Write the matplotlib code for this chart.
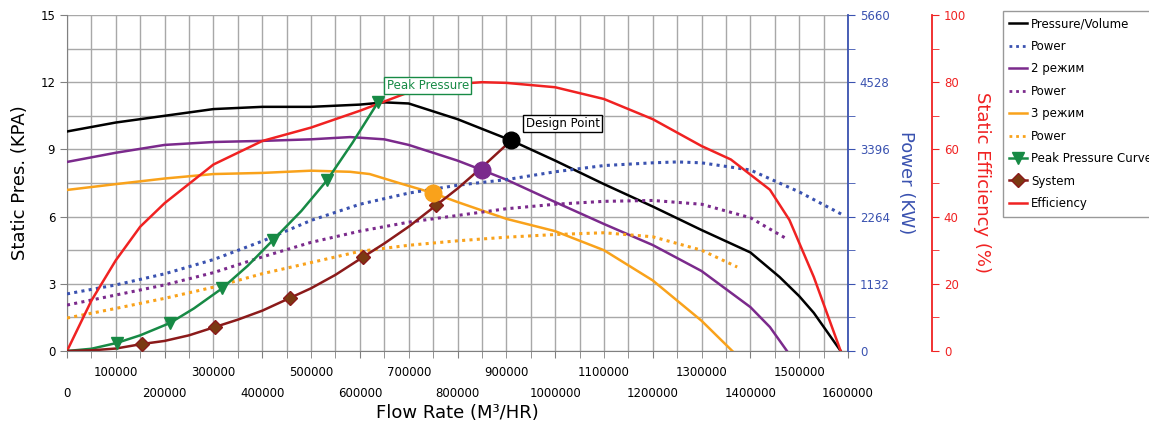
import matplotlib.pyplot as plt
from matplotlib.lines import Line2D
from matplotlib.ticker import MultipleLocator, FixedLocator, FuncFormatter

# Fan curves (flow in M3/HR, pressure in KPA, power in KW, efficiency in %)
flow_black = [0, 100000, 200000, 300000, 400000, 500000, 600000, 650000, 700000, 800000,
              910000, 1000000, 1100000, 1200000, 1300000, 1400000, 1460000, 1500000, 1530000, 1585000]
pres_black = [9.8, 10.2, 10.5, 10.8, 10.9, 10.9, 11.0, 11.1, 11.05, 10.35,
              9.4, 8.5, 7.45, 6.45, 5.4, 4.4, 3.3, 2.45, 1.7, 0]

flow_purple = [0, 100000, 200000, 300000, 400000, 500000, 580000, 650000, 700000, 800000,
               850000, 900000, 1000000, 1100000, 1200000, 1300000, 1400000, 1440000, 1475000]
pres_purple = [8.44, 8.85, 9.2, 9.33, 9.38, 9.45, 9.55, 9.45, 9.2, 8.5,
               8.08, 7.65, 6.65, 5.67, 4.73, 3.57, 1.96, 1.07, 0]

flow_orange = [0, 100000, 200000, 300000, 400000, 500000, 580000, 620000, 680000, 750000,
               800000, 900000, 1000000, 1100000, 1200000, 1300000, 1363000]
pres_orange = [7.19, 7.45, 7.7, 7.9, 7.95, 8.05, 8.0, 7.9, 7.5, 7.05,
               6.65, 5.9, 5.35, 4.5, 3.15, 1.35, 0]

flow_pw_blue = [0, 100000, 200000, 300000, 400000, 500000, 600000, 700000, 800000, 900000,
                1000000, 1100000, 1200000, 1250000, 1300000, 1400000, 1500000, 1590000]
pw_blue = [962, 1113, 1300, 1540, 1850, 2200, 2472, 2660, 2792, 2887,
           3019, 3124, 3170, 3185, 3170, 3049, 2680, 2290]

flow_pw_purple = [0, 100000, 200000, 300000, 400000, 500000, 600000, 700000, 800000, 900000,
                  1000000, 1100000, 1200000, 1300000, 1400000, 1475000]
pw_purple = [774, 943, 1113, 1320, 1585, 1830, 2019, 2170, 2283, 2396,
             2472, 2521, 2536, 2472, 2245, 1887]

flow_pw_orange = [0, 100000, 200000, 300000, 400000, 500000, 600000, 700000, 800000, 900000,
                  1000000, 1100000, 1200000, 1300000, 1373000]
pw_orange = [555, 717, 887, 1075, 1302, 1490, 1679, 1781, 1856, 1917,
             1962, 1992, 1924, 1698, 1415]

flow_eff = [0, 50000, 100000, 150000, 200000, 300000, 400000, 500000, 600000, 700000,
            800000, 850000, 900000, 1000000, 1100000, 1200000, 1300000, 1360000, 1440000,
            1480000, 1530000, 1585000]
eff = [0, 15, 27, 37, 44, 55.5, 62.5, 66.5, 71.5, 77,
       79.5, 80, 79.8, 78.5, 75, 69, 61, 57, 48,
       39, 22, 0]

# Peak pressure curve
flow_peak_line = [0, 50000, 102000, 150000, 211000, 260000, 318000, 370000, 422000, 480000, 533000, 585000, 637000]
pres_peak_line = [0, 0.1, 0.36, 0.7, 1.25, 1.9, 2.8, 3.8, 4.95, 6.25, 7.63, 9.3, 11.1]
flow_peak_pts = [102000, 211000, 318000, 422000, 533000, 637000]
pres_peak_pts = [0.36, 1.25, 2.8, 4.95, 7.63, 11.1]

# System curve
flow_sys_line = [0, 50000, 100000, 153000, 200000, 250000, 303000, 350000, 400000, 457000,
                 500000, 550000, 607000, 650000, 700000, 756000, 800000, 850000, 910000]
pres_sys_line = [0, 0.03, 0.11, 0.31, 0.45, 0.7, 1.07, 1.4, 1.8, 2.37,
                 2.8, 3.4, 4.2, 4.8, 5.55, 6.5, 7.25, 8.2, 9.4]
flow_sys_pts = [153000, 303000, 457000, 607000, 756000]
pres_sys_pts = [0.31, 1.07, 2.37, 4.2, 6.5]

# operating points
op_flow = [910000, 850000, 750000]
op_pres = [9.4, 8.08, 7.05]

x_ticks_low = list(range(0, 1600001, 200000))          # lower row labels
x_ticks_up = list(range(100000, 1600000, 200000))      # upper row labels
x_ticks_half = list(range(50000, 1600000, 100000))     # unlabeled grid lines

c_black = "#000000"
c_blue = "#3a52b0"
c_purple = "#7b2a8c"
c_orange = "#f9a21b"
c_green = "#178a45"
c_sys = "#8b1a1a"
c_sys_mk = "#7a3a12"
c_red = "#f02222"

fig = plt.figure(figsize=(11.49, 4.26), dpi=100)
ax = fig.add_axes([67 / 1149, 75 / 426, 781 / 1149, 336 / 426])
ax_pw = ax.twinx()
ax_eff = ax.twinx()

ax.set_xlim(0, 1600000)
ax.set_ylim(0, 15)
ax_pw.set_ylim(0, 5660)
ax_eff.set_ylim(0, 100)

# staggered x labels: even hundreds-of-thousands on the lower row, odd ones on the upper row
ax.xaxis.set_major_locator(FixedLocator(x_ticks_low))
ax.xaxis.set_minor_locator(FixedLocator(sorted(x_ticks_up + x_ticks_half)))
ax.xaxis.set_major_formatter(FuncFormatter(lambda v, p: str(int(round(v)))))
ax.xaxis.set_minor_formatter(FuncFormatter(
    lambda v, p: str(int(round(v))) if int(round(v)) in x_ticks_up else ""))
ax.yaxis.set_major_locator(MultipleLocator(3))
ax.yaxis.set_minor_locator(MultipleLocator(1.5))
ax.grid(True, which="both", color="#a8a8a8", linewidth=1.0)
ax.set_axisbelow(True)

lw = 1.8
dot = (0, (1, 1.4))
ax.plot(flow_black, pres_black, color=c_black, lw=lw, zorder=3)
ax.plot(flow_purple, pres_purple, color=c_purple, lw=lw, zorder=3)
ax.plot(flow_orange, pres_orange, color=c_orange, lw=lw, zorder=3)
ax_pw.plot(flow_pw_blue, pw_blue, color=c_blue, lw=2.2, linestyle=dot)
ax_pw.plot(flow_pw_purple, pw_purple, color=c_purple, lw=2.2, linestyle=dot)
ax_pw.plot(flow_pw_orange, pw_orange, color=c_orange, lw=2.2, linestyle=dot)
ax_eff.plot(flow_eff, eff, color=c_red, lw=lw)

# peak pressure + system drawn on the top axes (pressure rescaled to 0-100)
ax_top = ax_eff
k = 100 / 15
ax_top.plot(flow_peak_line, [p * k for p in pres_peak_line], color=c_green, lw=lw, zorder=4)
ax_top.plot(flow_peak_pts, [p * k for p in pres_peak_pts], linestyle="none", marker="v",
            color=c_green, markersize=8, zorder=5)
ax_top.plot(flow_sys_line, [p * k for p in pres_sys_line], color=c_sys, lw=lw, zorder=4)
ax_top.plot(flow_sys_pts, [p * k for p in pres_sys_pts], linestyle="none", marker="D",
            color=c_sys_mk, markeredgecolor=c_sys, markersize=7, zorder=5)
for f, p, c in zip(op_flow, op_pres, [c_black, c_purple, c_orange]):
    ax_top.plot(f, p * k, marker="o", color=c, markersize=12, zorder=6)

ax_top.text(655000, 11.7 * k, "Peak Pressure", color=c_green, fontsize=8.5,
            bbox=dict(boxstyle="square,pad=0.2", fc="white", ec=c_green, lw=1), zorder=7)
ax_top.text(940000, 10.0 * k, "Design Point", color="black", fontsize=8.5,
            bbox=dict(boxstyle="square,pad=0.2", fc="white", ec="black", lw=1), zorder=7)

ax.tick_params(axis="x", which="major", length=5, color="#808080", pad=21, labelsize=8.5)
ax.tick_params(axis="x", which="minor", length=5, color="#808080", pad=6, labelsize=8.5)
ax.tick_params(axis="y", which="major", length=5, color="#808080", labelsize=8.5)
ax.tick_params(axis="y", which="minor", length=0)
ax.set_xlabel("Flow Rate (M³/HR)", fontsize=13, labelpad=3)
ax.set_ylabel("Static Pres. (KPA)", fontsize=13, labelpad=8)
for s in ["left", "bottom"]:
    ax.spines[s].set_color("#808080")
ax.spines["right"].set_visible(False)
ax.spines["top"].set_visible(False)

ax_pw.set_yticks([0, 1132, 2264, 3396, 4528, 5660])
ax_pw.yaxis.set_minor_locator(MultipleLocator(566))
ax_pw.tick_params(axis="y", which="both", colors=c_blue, labelsize=8.5, length=5)
ax_pw.spines["right"].set_color(c_blue)
ax_pw.spines["right"].set_linewidth(1.3)
for s in ["left", "top", "bottom"]:
    ax_pw.spines[s].set_visible(False)
ax_pw.set_ylabel("Power (KW)", color=c_blue, fontsize=13, rotation=270, labelpad=18)

ax_eff.spines["right"].set_position(("axes", 865 / 781))
ax_eff.spines["right"].set_color(c_red)
ax_eff.spines["right"].set_linewidth(1.3)
for s in ["left", "top", "bottom"]:
    ax_eff.spines[s].set_visible(False)
ax_eff.yaxis.set_major_locator(MultipleLocator(20))
ax_eff.yaxis.set_minor_locator(MultipleLocator(10))
ax_eff.tick_params(axis="y", which="both", colors=c_red, labelsize=8.5, length=5)
ax_eff.set_ylabel("Static Efficiency (%)", color=c_red, fontsize=13, rotation=270, labelpad=18)
ax_eff.set_xlim(0, 1600000)

handles = [
    Line2D([], [], color=c_black, lw=lw),
    Line2D([], [], color=c_blue, lw=2, linestyle=dot),
    Line2D([], [], color=c_purple, lw=lw),
    Line2D([], [], color=c_purple, lw=2, linestyle=dot),
    Line2D([], [], color=c_orange, lw=lw),
    Line2D([], [], color=c_orange, lw=2, linestyle=dot),
    Line2D([], [], color=c_green, lw=lw, marker="v", markersize=8),
    Line2D([], [], color=c_sys, lw=lw, marker="D", markerfacecolor=c_sys_mk, markersize=7),
    Line2D([], [], color=c_red, lw=lw),
]
labels = ["Pressure/Volume", "Power", "2 режим", "Power", "3 режим", "Power",
          "Peak Pressure Curve", "System", "Efficiency"]
leg = fig.legend(handles, labels, loc="upper left", bbox_to_anchor=(1003 / 1149, 1 - 11 / 426),
                 fontsize=8.5, frameon=True, fancybox=False, edgecolor="#808080",
                 handlelength=1.5, handletextpad=0.35, labelspacing=0.8, borderpad=0.55, borderaxespad=0)
leg.get_frame().set_linewidth(1)

fig.savefig("out.png", dpi=100)
